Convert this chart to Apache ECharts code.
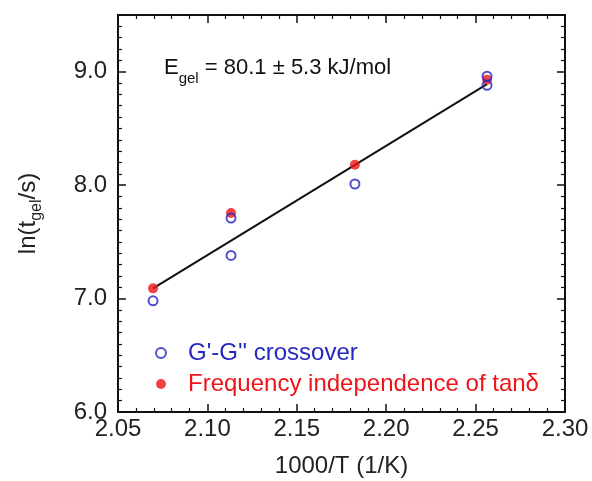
<!DOCTYPE html>
<html><head><meta charset="utf-8">
<script src="https://cdn.jsdelivr.net/npm/echarts@6/dist/echarts.min.js"></script>
<style>html,body{margin:0;padding:0;background:#fff}#c{width:592px;height:481px}</style>
</head><body><div id="c"></div>
<script>
const crossX = [2.0696, 2.1132, 2.1132, 2.1825, 2.2564, 2.2564];
const crossY = [6.98, 7.71, 7.38, 8.01, 8.96, 8.88];
const tanX = [2.0696, 2.1132, 2.1825, 2.2564];
const tanY = [7.09, 7.755, 8.18, 8.93];
const fitX = [2.0696, 2.2564];
const fitY = [7.09, 8.89];
const xTicks = ['2.05','2.10','2.15','2.20','2.25','2.30'];
const yTicks = ['6.0','7.0','8.0','9.0'];
const seriesNames = ["G'-G'' crossover", 'Frequency independence of tan\u03b4'];

const blue = '#2626c0', red = '#ee1418';
const font = 'Liberation Sans, Arial, sans-serif';
const zip = (a, b) => a.map((v, i) => [v, b[i]]);

const axisCommon = {
  axisLine: {show: true, lineStyle: {color: '#111', width: 2}},
  axisTick: {show: true, inside: true, length: 8, lineStyle: {color: '#111', width: 1.5}},
  minorTick: {show: true, length: 4, lineStyle: {color: '#111', width: 1.2}},
  splitLine: {show: false}
};
const xBase = Object.assign({type: 'value', min: 2.05, max: 2.30, interval: 0.05}, axisCommon);
const yBase = Object.assign({type: 'value', min: 6.0, max: 9.5, interval: 1}, axisCommon);

const chart = echarts.init(document.getElementById('c'));
chart.setOption({
  animation: false,
  grid: {left: 118, right: 27, top: 15, bottom: 69, containLabel: false, outerBoundsMode: 'none'},
  xAxis: [
    Object.assign({}, xBase, {
      position: 'bottom',
      minorTick: Object.assign({}, axisCommon.minorTick, {splitNumber: 5}),
      axisLabel: {fontSize: 24, color: '#222', fontFamily: font, margin: 5,
        formatter: v => { const s = v.toFixed(2); return xTicks.includes(s) ? s : ''; }},
      name: '1000/T (1/K)', nameLocation: 'middle', nameGap: 42,
      nameTextStyle: {fontSize: 24, color: '#222', fontFamily: font}
    }),
    Object.assign({}, xBase, {
      position: 'top',
      minorTick: Object.assign({}, axisCommon.minorTick, {splitNumber: 5}),
      axisLabel: {show: false}
    })
  ],
  yAxis: [
    Object.assign({}, yBase, {
      position: 'left',
      minorTick: Object.assign({}, axisCommon.minorTick, {splitNumber: 10}),
      axisLabel: {fontSize: 24, color: '#222', fontFamily: font, margin: 11,
        formatter: v => { const s = v.toFixed(1); return yTicks.includes(s) ? s : ''; }},
      name: '{b|ln(t}{s|gel}{b|/s)}', nameLocation: 'middle', nameGap: 73, nameRotate: 90,
      nameTextStyle: {fontFamily: font, color: '#222',
        rich: {b: {fontSize: 24, color: '#222', fontFamily: font, lineHeight: 34, verticalAlign: 'middle'},
               s: {fontSize: 16, color: '#222', fontFamily: font, lineHeight: 34, verticalAlign: 'bottom', padding: [16, 0, 0, 0]}}}
    }),
    Object.assign({}, yBase, {
      position: 'right',
      minorTick: Object.assign({}, axisCommon.minorTick, {splitNumber: 10}),
      axisLabel: {show: false}
    })
  ],
  legend: {
    orient: 'vertical', left: 150, top: 336, itemGap: 7, itemWidth: 14, itemHeight: 10,
    data: [
      {name: seriesNames[0], icon: 'circle', itemStyle: {color: '#fff', borderColor: blue, borderWidth: 2}, textStyle: {color: blue}},
      {name: seriesNames[1], icon: 'circle', itemStyle: {color: red}, textStyle: {color: red}}
    ],
    textStyle: {fontSize: 24, lineHeight: 24, fontFamily: font, padding: [0, 0, 0, 15]}
  },
  graphic: [{
    type: 'text', left: 164, top: 54,
    style: {
      text: '{b|E}{s|gel}{b| = 80.1 \u00b1 5.3 kJ/mol}',
      fontFamily: font,
      rich: {b: {fontSize: 22, fill: '#111', fontFamily: font, lineHeight: 36, verticalAlign: 'middle'},
             s: {fontSize: 15, fill: '#111', fontFamily: font, lineHeight: 36, verticalAlign: 'bottom', padding: [17, 0, 0, 0]}}
    }
  }],
  series: [
    {type: 'line', name: 'fit', data: zip(fitX, fitY), symbol: 'none', lineStyle: {color: '#111', width: 2}, z: 1},
    {type: 'scatter', name: seriesNames[1], data: zip(tanX, tanY), symbol: 'circle', symbolSize: 10,
      itemStyle: {color: red}, z: 2},
    {type: 'scatter', name: seriesNames[0], data: zip(crossX, crossY), symbol: 'circle', symbolSize: 9,
      itemStyle: {color: 'rgba(255,255,255,0)', borderColor: blue, borderWidth: 2}, z: 3}
  ]
});
</script>
</body></html>
